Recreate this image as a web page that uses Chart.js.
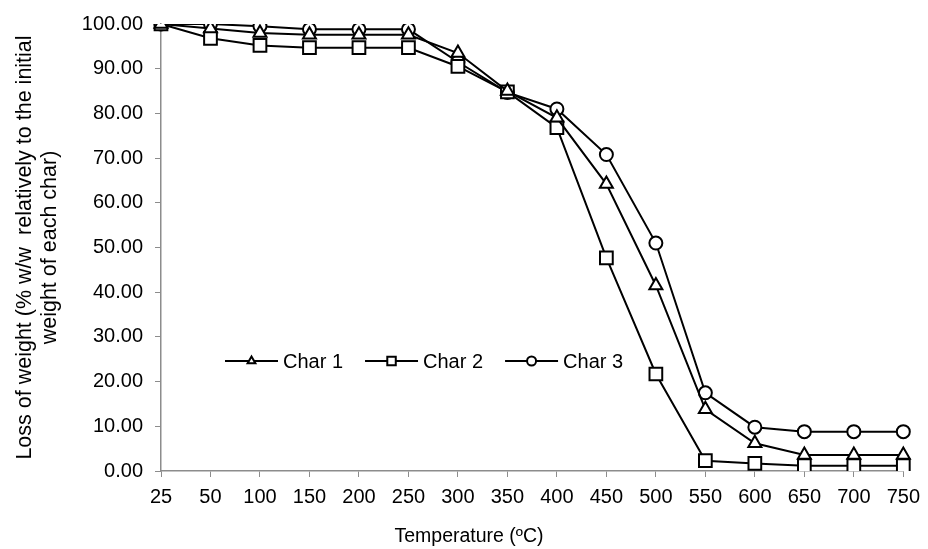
<!DOCTYPE html>
<html>
<head>
<meta charset="utf-8">
<script src="https://cdn.jsdelivr.net/npm/chart.js@4/dist/chart.umd.min.js"></script>
<style>
  body { margin: 0; background: #fff; }
  #wrap { width: 928px; height: 549px; }
</style>
</head>
<body>
<div id="wrap"><canvas id="myChart" width="928" height="549"></canvas></div>
<script>
// --- Data ---
const temperatures = ['25', '50', '100', '150', '200', '250', '300', '350', '400', '450', '500', '550', '600', '650', '700', '750'];
const char1 = [100, 99.0, 98.0, 97.6, 97.6, 97.6, 93.5, 85.0, 79.0, 64.2, 41.5, 13.8, 6.2, 3.6, 3.6, 3.6];
const char2 = [100, 96.8, 95.2, 94.7, 94.7, 94.7, 90.5, 84.8, 76.8, 47.7, 21.7, 2.3, 1.7, 1.2, 1.2, 1.2];
const char3 = [100, 100, 99.5, 98.8, 98.8, 98.8, 91.5, 84.7, 81.0, 70.8, 51.0, 17.5, 9.8, 8.8, 8.8, 8.8];
const seriesNames = ['Char 1', 'Char 2', 'Char 3'];
const yTicks = [0, 10, 20, 30, 40, 50, 60, 70, 80, 90, 100];

const FONT = "'Liberation Sans', Arial, sans-serif";
const AXIS_GRAY = '#8c8c8c';

function series(label, data, style, radius) {
    return {
        label: label,
        data: data,
        borderColor: '#000',
        borderWidth: 2,
        pointStyle: style,
        pointRadius: radius,
        pointBorderWidth: 2,
        pointBorderColor: '#000',
        pointBackgroundColor: '#fff',
        tension: 0,
        fill: false
    };
}

// legend drawn inside the plot area: line with marker, then label
const insideLegend = {
    id: 'insideLegend',
    afterDraw(chart) {
        const ctx = chart.ctx;
        const y = 361;
        let x = 225;
        const lineLen = 53;
        ctx.save();
        ctx.font = '20px ' + FONT;
        ctx.textBaseline = 'middle';
        ctx.textAlign = 'left';
        chart.data.datasets.forEach((ds) => {
            ctx.strokeStyle = '#000';
            ctx.lineWidth = 2;
            ctx.beginPath();
            ctx.moveTo(x, y);
            ctx.lineTo(x + lineLen, y);
            ctx.stroke();
            ctx.fillStyle = '#fff';
            Chart.helpers.drawPoint(ctx, {
                pointStyle: ds.pointStyle,
                radius: ds.pointStyle === 'rect' ? 6 : 4.5,
                borderWidth: 2,
                rotation: 0
            }, x + lineLen / 2, y);
            ctx.fillStyle = '#000';
            ctx.fillText(ds.label, x + lineLen + 5, y + 1);
            x += lineLen + 5 + ctx.measureText(ds.label).width + 22;
        });
        // x axis title, centred on the figure like the original
        ctx.font = '19.5px ' + FONT;
        ctx.textAlign = 'center';
        ctx.fillText('Temperature (ºC)', 469, 537);
        ctx.restore();
    }
};

const ctx = document.getElementById('myChart').getContext('2d');
new Chart(ctx, {
    type: 'line',
    data: {
        labels: temperatures,
        datasets: [
            series(seriesNames[0], char1, 'triangle', 7.5),
            series(seriesNames[1], char2, 'rect', 9),
            series(seriesNames[2], char3, 'circle', 6.5)
        ]
    },
    options: {
        responsive: false,
        animation: false,
        layout: { padding: { top: 24, right: 21, bottom: 0, left: 0 } },
        plugins: {
            legend: { display: false },
            tooltip: { enabled: false }
        },
        scales: {
            x: {
                offset: false,
                grid: { drawOnChartArea: false, drawTicks: true, tickLength: 6, color: AXIS_GRAY, offset: false },
                border: { color: AXIS_GRAY, width: 1.5 },
                ticks: { color: '#000', font: { family: FONT, size: 20 }, padding: 8, maxRotation: 0, autoSkip: false },
                afterFit(scale) { scale.height = 78; }
            },
            y: {
                min: 0,
                max: 100,
                afterBuildTicks(scale) { scale.ticks = yTicks.map(v => ({ value: v })); },
                grid: { drawOnChartArea: false, drawTicks: true, tickLength: 6, color: AXIS_GRAY },
                border: { color: AXIS_GRAY, width: 1.5 },
                ticks: {
                    color: '#000',
                    font: { family: FONT, size: 20 },
                    padding: 12,
                    callback: (v) => Number(v).toFixed(2)
                },
                title: {
                    display: true,
                    text: ['Loss of weight (% w/w  relatively to the initial', 'weight of each char)'],
                    color: '#000',
                    font: { family: FONT, size: 21.5, lineHeight: 1.17 },
                    padding: { top: 12.5, bottom: 4 }
                },
                afterFit(scale) { scale.width = 161; }
            }
        }
    },
    plugins: [insideLegend]
});
</script>
</body>
</html>
